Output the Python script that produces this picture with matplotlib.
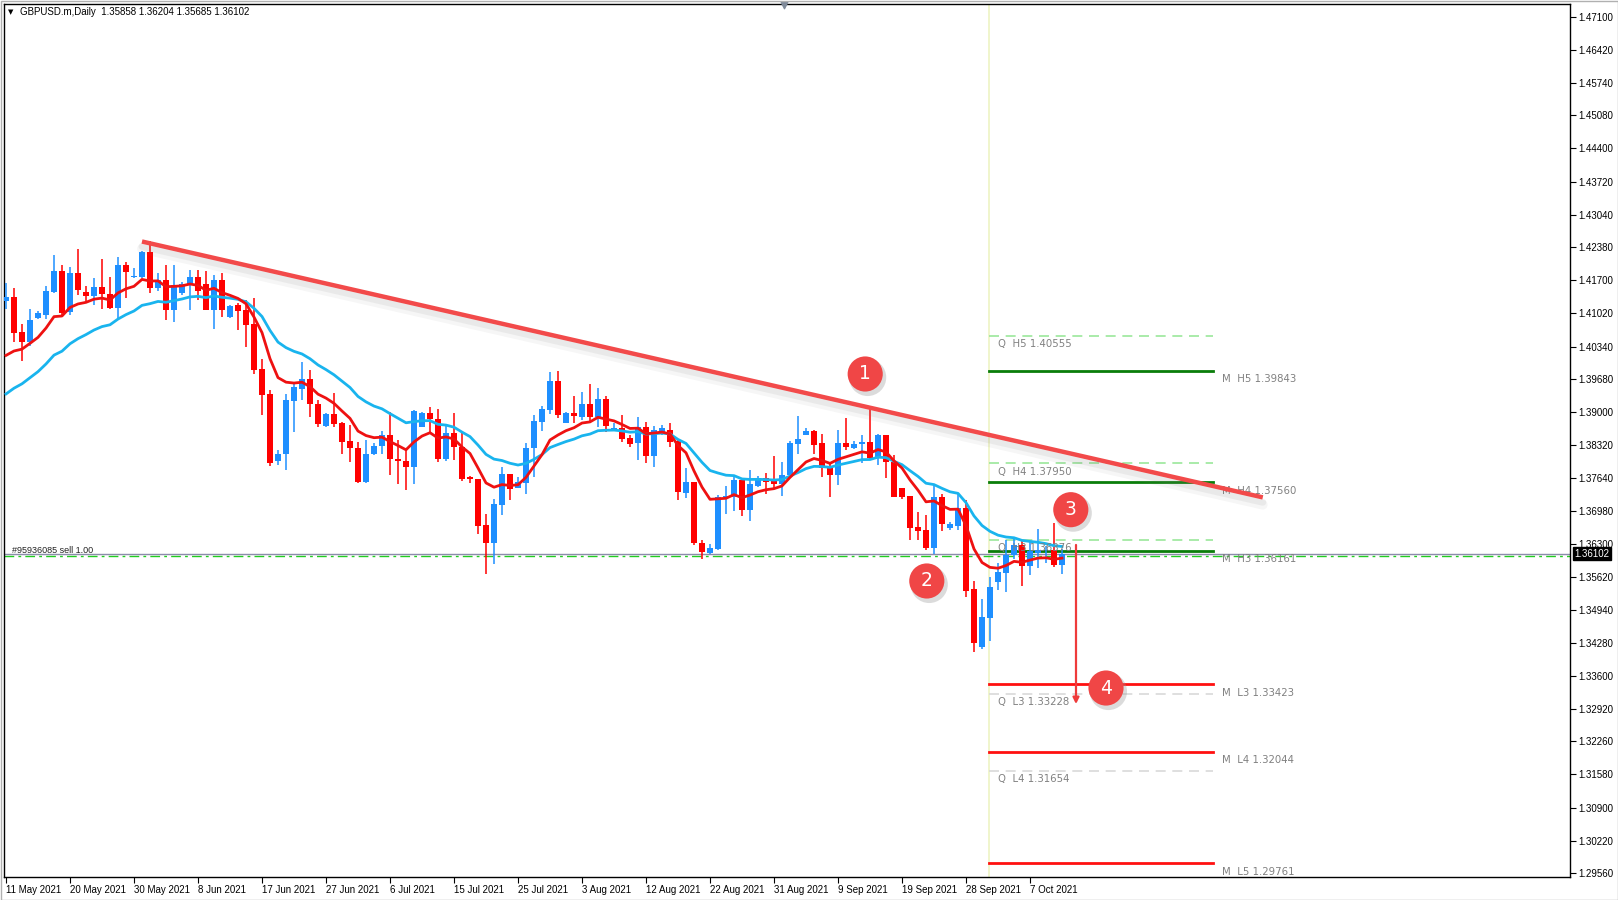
import numpy as np
import matplotlib
matplotlib.use("Agg")
import matplotlib.pyplot as plt

# ---------------- data ----------------
opens = [1.4128,1.4136,1.4063,1.4043,1.4093,1.4099,1.4146,1.4189,1.4105,1.4185,
         1.4146,1.4138,1.4157,1.4142,1.4114,1.4202,1.4176,1.4177,1.4228,1.4155,
         1.4170,1.4109,1.4143,1.4162,1.4176,1.4163,1.4109,1.4170,1.4094,1.4119,
         1.4109,1.4080,1.3989,1.3937,1.3799,1.3814,1.3923,1.3948,1.3968,1.3916,
         1.3872,1.3896,1.3878,1.3840,1.3827,1.3757,1.3815,1.3830,1.3853,1.3804,
         1.3800,1.3788,1.3870,1.3897,1.3885,1.3803,1.3858,1.3828,1.3767,1.3762,
         1.3668,1.3632,1.3709,1.3773,1.3745,1.3755,1.3826,1.3880,1.3904,1.3963,
         1.3878,1.3897,1.3889,1.3916,1.3889,1.3927,1.3865,1.3867,1.3847,1.3836,
         1.3869,1.3810,1.3855,1.3864,1.3841,1.3735,1.3757,1.3632,1.3612,1.3619,
         1.3725,1.3726,1.3761,1.3699,1.3749,1.3764,1.3758,1.3752,1.3771,1.3834,
         1.3853,1.3861,1.3836,1.3786,1.3771,1.3836,1.3826,1.3834,1.3839,1.3805,
         1.3853,1.3798,1.3745,1.3729,1.3664,1.3658,1.3622,1.3725,1.3662,1.3667,
         1.3703,1.3537,1.3419,1.3479,1.3551,1.3570,1.3607,1.3628,1.3585,1.3611,
         1.3600,1.3617,1.35858]
highs = [1.4165,1.4155,1.4080,1.4110,1.4107,1.4158,1.4222,1.4201,1.4196,1.4234,
         1.4158,1.4174,1.4213,1.4177,1.4218,1.4208,1.4194,1.4230,1.4250,1.4184,
         1.4202,1.4202,1.4167,1.4191,1.4191,1.4189,1.4181,1.4185,1.4119,1.4124,
         1.4129,1.4133,1.4008,1.3945,1.3822,1.3937,1.3962,1.4003,1.3986,1.3924,
         1.3897,1.3938,1.3880,1.3873,1.3839,1.3843,1.3836,1.3862,1.3901,1.3843,
         1.3826,1.3904,1.3901,1.3910,1.3906,1.3873,1.3899,1.3862,1.3769,1.3763,
         1.3691,1.3721,1.3788,1.3774,1.3766,1.3836,1.3894,1.3912,1.3983,1.3985,
         1.3901,1.3933,1.3940,1.3957,1.3950,1.3933,1.3877,1.3894,1.3853,1.3889,
         1.3880,1.3871,1.3873,1.3878,1.3844,1.3785,1.3757,1.3638,1.3629,1.3730,
         1.3748,1.3767,1.3764,1.3781,1.3768,1.3775,1.3809,1.3798,1.3841,1.3892,
         1.3867,1.3863,1.3856,1.3798,1.3863,1.3888,1.3841,1.3852,1.3913,1.3854,
         1.3853,1.3812,1.3745,1.3729,1.3695,1.3689,1.3751,1.3733,1.3675,1.3733,
         1.3720,1.3554,1.3517,1.3563,1.3590,1.3638,1.3641,1.3638,1.3634,1.3660,
         1.3625,1.3672,1.36204]
lows = [1.4110,1.4044,1.4004,1.4036,1.4090,1.4090,1.4143,1.4095,1.4099,1.4140,
        1.4127,1.4119,1.4112,1.4111,1.4092,1.4134,1.4174,1.4174,1.4143,1.4148,
        1.4088,1.4084,1.4140,1.4109,1.4129,1.4109,1.4071,1.4095,1.4092,1.4068,
        1.4034,1.3978,1.3894,1.3789,1.3791,1.3782,1.3860,1.3924,1.3889,1.3870,
        1.3870,1.3870,1.3814,1.3798,1.3755,1.3755,1.3812,1.3814,1.3771,1.3752,
        1.3740,1.3752,1.3869,1.3856,1.3798,1.3800,1.3802,1.3759,1.3755,1.3651,
        1.3569,1.3589,1.3689,1.3719,1.3744,1.3733,1.3766,1.3862,1.3896,1.3887,
        1.3877,1.3877,1.3884,1.3880,1.3870,1.3860,1.3862,1.3839,1.3828,1.3802,
        1.3795,1.3788,1.3853,1.3828,1.3720,1.3723,1.3628,1.3600,1.3609,1.3617,
        1.3692,1.3698,1.3688,1.3677,1.3747,1.3733,1.3744,1.3729,1.3768,1.3815,
        1.3852,1.3815,1.3766,1.3725,1.3750,1.3822,1.3824,1.3795,1.3804,1.3791,
        1.3764,1.3727,1.3722,1.3638,1.3638,1.3617,1.3609,1.3656,1.3658,1.3658,
        1.3522,1.3409,1.3415,1.3431,1.3535,1.3531,1.3600,1.3544,1.3567,1.3580,
        1.3590,1.3583,1.35685]
closes = [1.4135,1.4061,1.4044,1.4088,1.4102,1.4148,1.4189,1.4102,1.4184,1.4150,
          1.4138,1.4157,1.4142,1.4114,1.4202,1.4186,1.4178,1.4228,1.4155,1.4170,
          1.4109,1.4160,1.4163,1.4177,1.4148,1.4109,1.4170,1.4109,1.4117,1.4107,
          1.4078,1.3986,1.3935,1.3796,1.3815,1.3924,1.3952,1.3968,1.3916,1.3875,
          1.3896,1.3875,1.3839,1.3827,1.3757,1.3815,1.3830,1.3853,1.3803,1.3799,
          1.3788,1.3903,1.3899,1.3885,1.3803,1.3858,1.3828,1.3763,1.3762,1.3667,
          1.3632,1.3711,1.3773,1.3742,1.3757,1.3827,1.3882,1.3906,1.3963,1.3894,
          1.3897,1.3892,1.3916,1.3889,1.3927,1.3871,1.3867,1.3845,1.3834,1.3869,
          1.3810,1.3863,1.3867,1.3839,1.3737,1.3757,1.3631,1.3614,1.3621,1.3726,
          1.3728,1.3761,1.3699,1.3752,1.3764,1.3757,1.3752,1.3771,1.3836,1.3845,
          1.3861,1.3833,1.3785,1.3771,1.3836,1.3829,1.3835,1.3838,1.3805,1.3853,
          1.3798,1.3727,1.3727,1.3663,1.3656,1.3621,1.3725,1.3670,1.3670,1.3703,
          1.3533,1.3428,1.3481,1.3542,1.3573,1.3608,1.3628,1.3585,1.3615,1.3617,
          1.3604,1.3586,1.36102]

date_labels = ["11 May 2021", "20 May 2021", "30 May 2021", "8 Jun 2021", "17 Jun 2021",
               "27 Jun 2021", "6 Jul 2021", "15 Jul 2021", "25 Jul 2021", "3 Aug 2021",
               "12 Aug 2021", "22 Aug 2021", "31 Aug 2021", "9 Sep 2021", "19 Sep 2021",
               "28 Sep 2021", "7 Oct 2021"]
price_labels = ["1.47100", "1.46420", "1.45740", "1.45080", "1.44400", "1.43720", "1.43040",
                "1.42380", "1.41700", "1.41020", "1.40340", "1.39680", "1.39000", "1.38320",
                "1.37640", "1.36980", "1.36300", "1.35620", "1.34940", "1.34280", "1.33600",
                "1.32920", "1.32260", "1.31580", "1.30900", "1.30220", "1.29560"]

q_names = ["H5", "H4", "H3", "L3", "L4"]
q_values = [1.40555, 1.37950, 1.36376, 1.33228, 1.31654]
m_names = ["H5", "H4", "H3", "L3", "L4", "L5"]
m_values = [1.39843, 1.37560, 1.36161, 1.33423, 1.32044, 1.29761]

fast_seed, fast_alpha = 1.4016, 0.20
slow_seed, slow_alpha = 1.3937, 0.095

bid_price = 1.36102
sell_price = 1.36060
trend_x = [17.0, 157.1]
trend_y = [1.42492, 1.37252]
marker_labels = ["1", "2", "3", "4"]
marker_x = [107.4, 115.1, 133.1, 137.5]
marker_y = [1.39779, 1.35540, 1.37000, 1.33348]
arrow_x = 133.75
arrow_from, arrow_to = 1.36278, 1.33020

# ---------------- figure ----------------
AXFONT = ["Liberation Sans", "DejaVu Sans"]
W, H = 1618, 900
fig = plt.figure(figsize=(W / 100, H / 100), dpi=100)
fig.patch.set_facecolor("white")
ax = fig.add_axes([4 / W, 23 / H, 1566 / W, 873 / H])
ax.set_xlim(-0.25, 195.5)
ax.set_ylim(1.29478, 1.47356)
for s in ax.spines.values():
    s.set_color("black")
    s.set_linewidth(1)

n = len(closes)
x = np.arange(n)
o = np.array(opens); h = np.array(highs); l = np.array(lows); c = np.array(closes)
up = c >= o
bull_col, bear_col = "#1e8fff", "#ff0000"
cols = np.where(up, bull_col, bear_col)

# period separator
sep_x = 122.85
ax.axvline(sep_x, color="#eef3c4", lw=1.2, zorder=0)

# wicks + bodies
ax.vlines(x, l, h, colors=cols, lw=1.1, zorder=3)
bottoms = np.minimum(o, c)
heights = np.maximum(np.abs(c - o), 0.00014)
ax.bar(x, heights, bottom=bottoms, width=0.7, color=cols, edgecolor="none", zorder=4)

# moving averages (EMA of closes)
def ema(vals, seed, a):
    out = [seed]
    for v in vals[1:]:
        out.append(out[-1] + a * (v - out[-1]))
    return np.array(out)

ax.plot(x, ema(closes, slow_seed, slow_alpha), color="#19b4ee", lw=2.0, zorder=5)
ax.plot(x, ema(closes, fast_seed, fast_alpha), color="#ee1111", lw=2.0, zorder=6)

# bid line and order line
ax.axhline(bid_price, color="#8c8cab", lw=1.0, zorder=2)
ax.axhline(sell_price, color="#22cc22", lw=1.0, ls=(0, (7, 3, 2, 3)), zorder=2)
ax.text(0.8, sell_price + 0.0001, "#95936085 sell 1.00", fontsize=6.5, color="#222222",
        va="bottom", ha="left", zorder=7, family=AXFONT)

# pivot levels
lx0, lx1 = 122.85, 150.9
for nm, v in zip(q_names, q_values):
    colr = "#9be89b" if nm.startswith("H") else "#d9d9d9"
    ax.plot([lx0, lx1], [v, v], color=colr, lw=1.2, ls=(0, (6, 4)), zorder=2)
    ax.annotate(f"Q  {nm} {v:.5f}", (124.0, v), xytext=(0, -6), textcoords="offset points",
                fontsize=7.3, color="#808080", va="center", ha="left", zorder=7)
for nm, v in zip(m_names, m_values):
    colr = "#0a7d0a" if nm.startswith("H") else "#ff1010"
    ax.plot([lx0, lx1], [v, v], color=colr, lw=2.0, zorder=2)
    ax.annotate(f"M  {nm} {v:.5f}", (152.0, v), xytext=(0, -6), textcoords="offset points",
                fontsize=7.3, color="#808080", va="center", ha="left", zorder=7)

# trend line with soft shadow
for off, a_, w_ in [(0.0030, 0.07, 7), (0.0020, 0.10, 5)]:
    ax.plot(trend_x, [trend_y[0] - off * 0.5, trend_y[1] - off * 0.5], color="#808080",
            lw=w_, alpha=a_, solid_capstyle="round", zorder=7)
ax.plot(trend_x, trend_y, color="#f24a4a", lw=3.2, solid_capstyle="butt", zorder=8)

# arrow
ax.annotate("", xy=(arrow_x, arrow_to), xytext=(arrow_x, arrow_from),
            arrowprops=dict(arrowstyle="-|>", color="#ee3b3b", lw=1.6,
                            mutation_scale=9, shrinkA=0, shrinkB=0), zorder=8)

# numbered markers
for t, mx, my in zip(marker_labels, marker_x, marker_y):
    ax.scatter([mx + 0.3], [my - 0.0007], s=720, color="#9a9a9a", alpha=0.35,
               edgecolors="none", zorder=9)
    ax.scatter([mx], [my], s=640, color="#f04646", edgecolors="none", zorder=10)
    ax.text(mx, my, t, color="white", fontsize=13.5, ha="center", va="center",
            zorder=11, family="DejaVu Sans")

# axes ticks
ax.yaxis.tick_right()
ax.set_yticks([float(p) for p in price_labels])
ax.set_yticklabels(price_labels, family=AXFONT)
ax.tick_params(axis="y", length=4, width=0.8, pad=2, labelsize=7, colors="black")
ax.set_xticks(np.arange(len(date_labels)) * 8)
ax.set_xticklabels(date_labels, family=AXFONT)
ax.tick_params(axis="x", length=4, width=0.8, pad=2, labelsize=7, colors="black")
for lb in ax.get_xticklabels():
    lb.set_ha("left")

# current price tag
ax.annotate(f"{bid_price:.5f}", xy=(1.0, bid_price), xycoords=("axes fraction", "data"),
            xytext=(3, 0), textcoords="offset points", fontsize=7, color="white",
            va="center", ha="left", annotation_clip=False, zorder=12, family=AXFONT,
            bbox=dict(boxstyle="square,pad=0.15", fc="black", ec="black"))

# header
fig.text(8 / W, 1 - 12 / H, "\u25BC", fontsize=5, color="black", va="center", ha="left")
fig.text(20 / W, 1 - 12 / H, "GBPUSD.m,Daily  1.35858 1.36204 1.35685 1.36102",
         fontsize=7, color="black", va="center", ha="left", family=AXFONT)
# small triangle at top (chart shift marker)
ax.scatter([97.2], [1.4734], marker="v", s=22, color="#7f8a99", zorder=12, clip_on=False)

# outer frame
fig.add_artist(plt.Rectangle((0.5 / W, 0.5 / H), 1 - 1 / W, 1 - 1 / H, fill=False,
                             ec="#b0b0b0", lw=1, transform=fig.transFigure))

fig.savefig("out.png", dpi=100, facecolor="white")
